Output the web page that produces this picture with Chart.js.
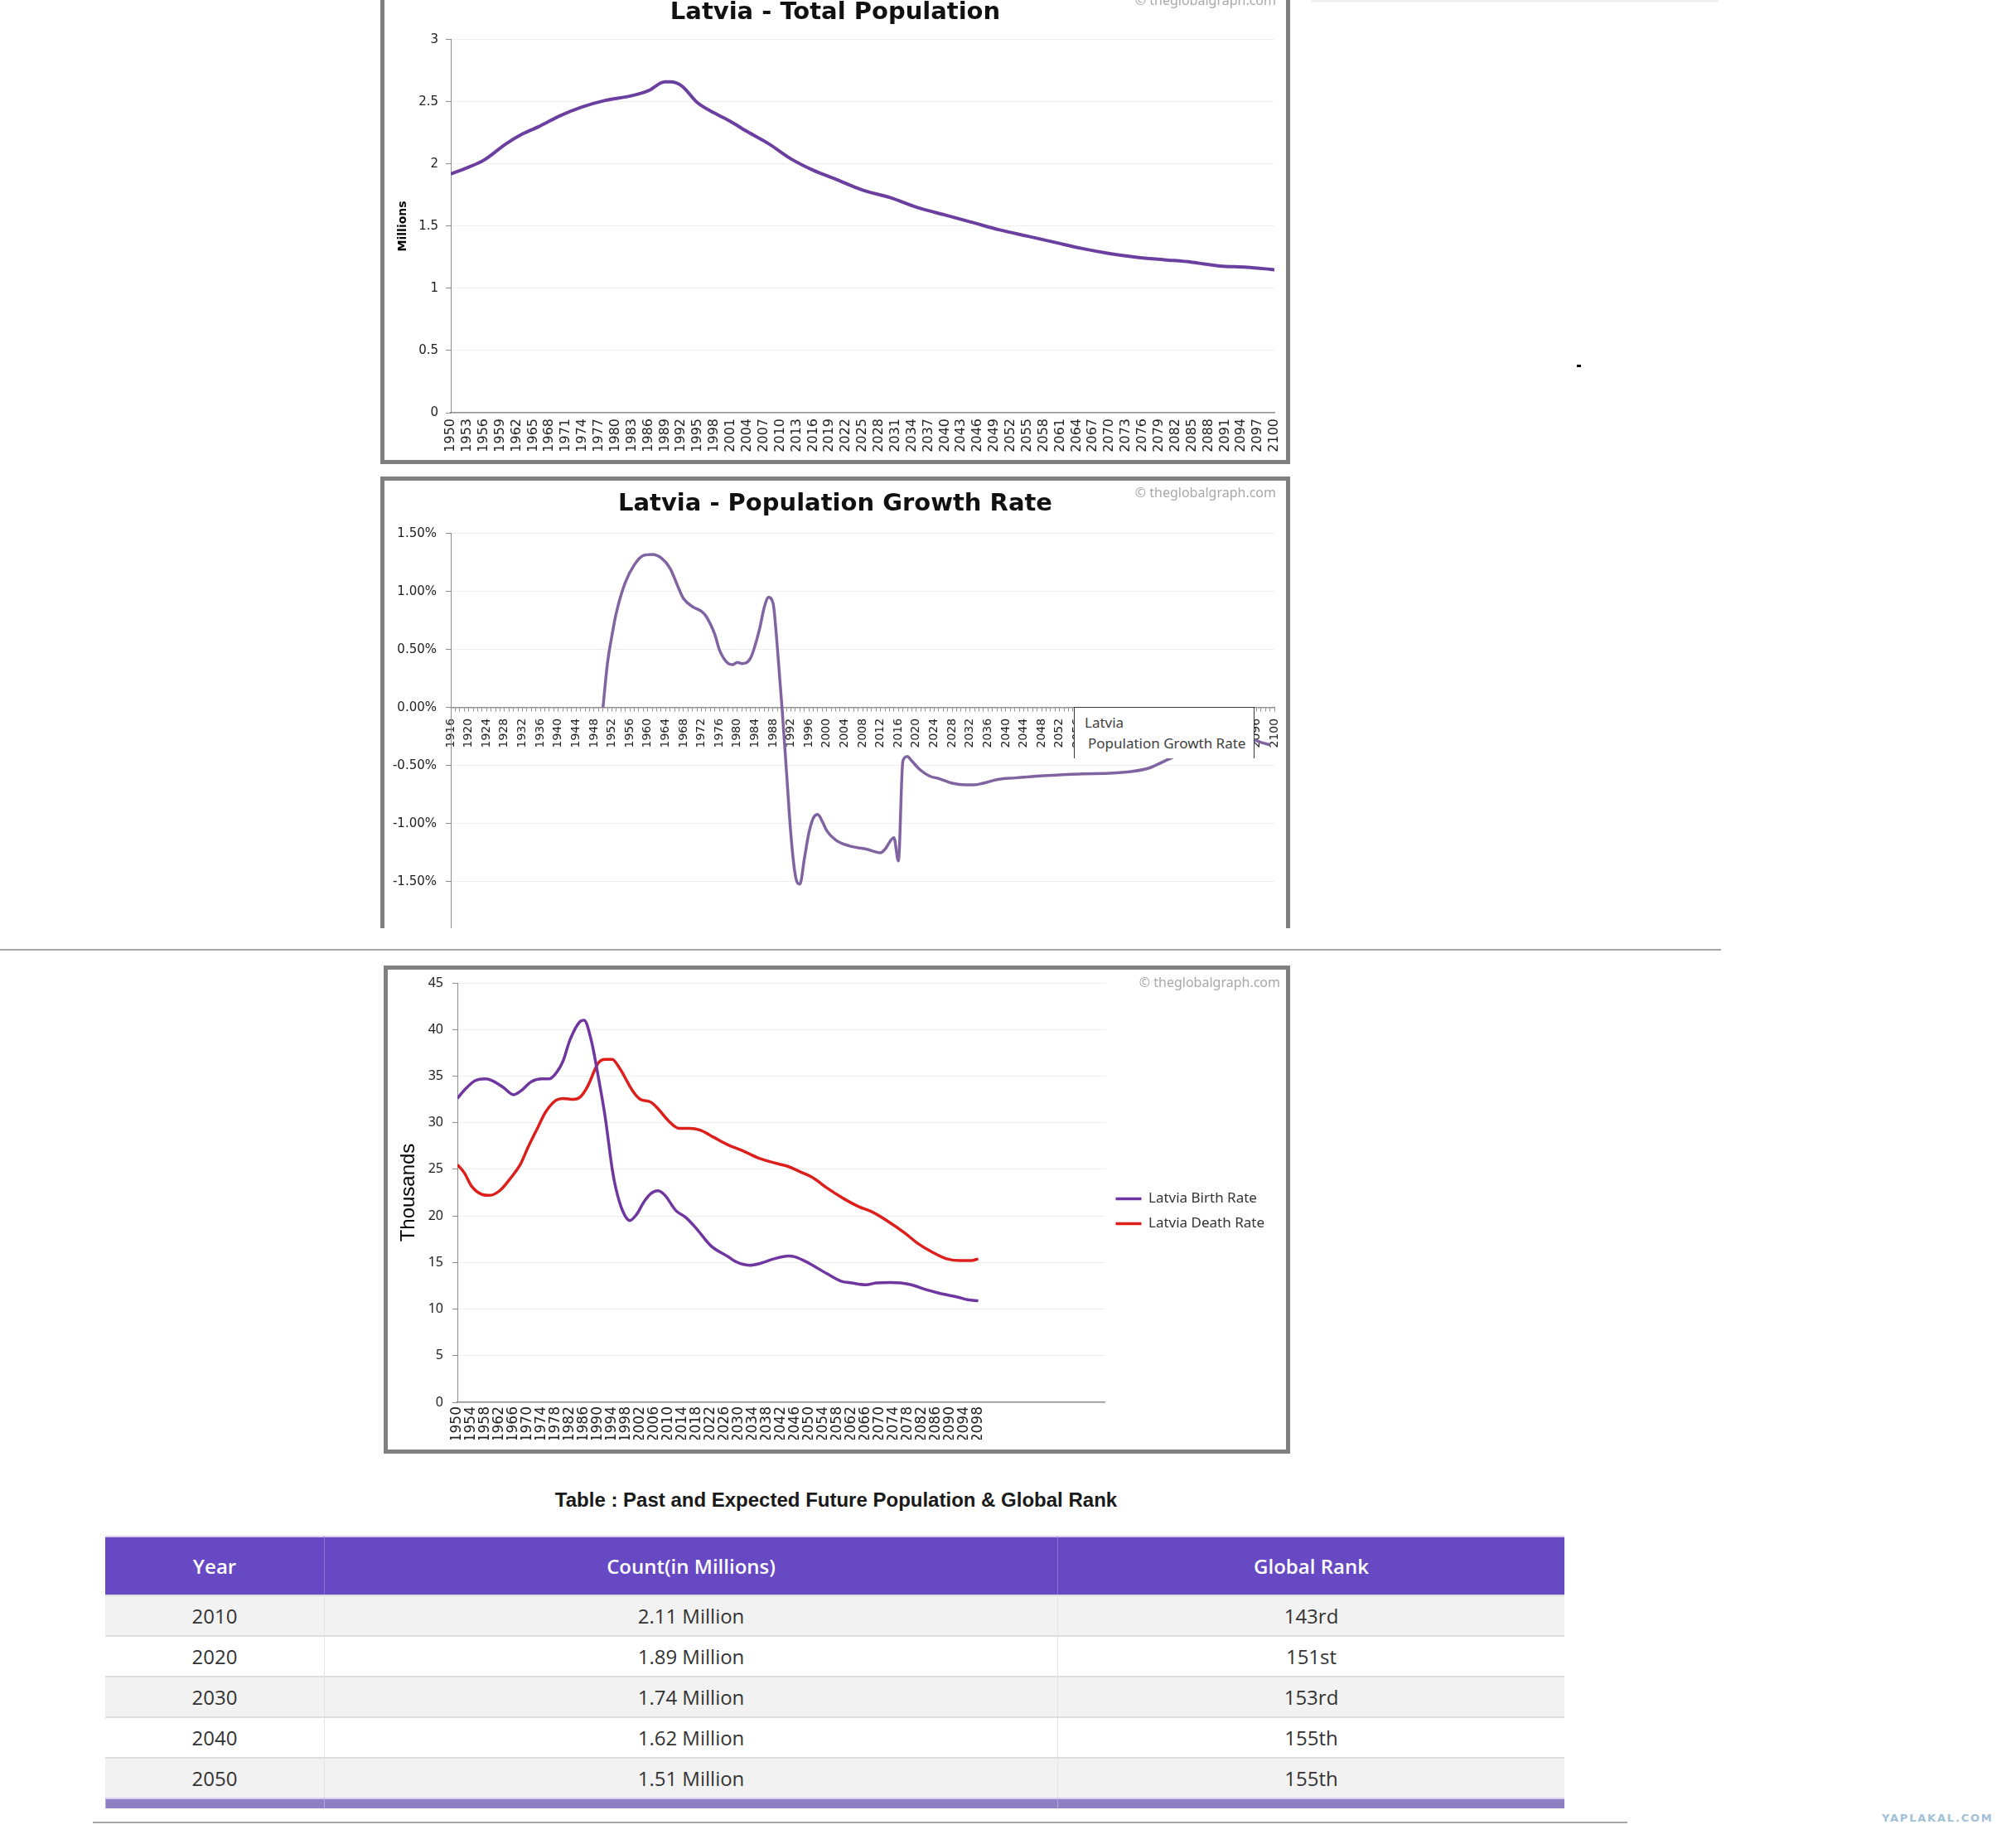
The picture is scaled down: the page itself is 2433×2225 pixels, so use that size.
<!DOCTYPE html>
<html>
<head>
<meta charset="utf-8">
<title>Latvia - Population</title>
<script src="https://cdn.jsdelivr.net/npm/chart.js@4.4.1/dist/chart.umd.min.js"></script>
<style>
  html, body { margin: 0; padding: 0; background: #fff; }
  body { width: 2433px; height: 2225px; position: relative; overflow: hidden; }
  .box { position: absolute; box-sizing: border-box; border: 5px solid #808080; background: #fff; overflow: hidden; }
  .box canvas { position: absolute; left: 0; top: 0; }
  .copy { position: absolute; width: 260px; height: 20px; line-height: 20px; font-family: 'Noto Sans', sans-serif;
          font-size: 16px; color: #a8a8a8; text-align: right; white-space: nowrap; }
  .rule { position: absolute; height: 2px; background: #a6a6a6; }
  #tip { position: absolute; left: 1296px; top: 853px; width: 218px; height: 62px; box-sizing: border-box;
         border: 1.5px solid #3a3a3a; border-bottom: none; background: #fff;
         font-family: 'Noto Sans', sans-serif; font-size: 17px; color: #404040; }
  #tip span { position: absolute; line-height: 20px; white-space: nowrap; }
  #tableTitle { position: absolute; left: 0; top: 1797px; width: 2018px; text-align: center; line-height: 26px;
                font-family: 'Liberation Sans', Arial, sans-serif; font-weight: bold; font-size: 24px; color: #1a1a1a; }
  #rank { position: absolute; left: 127px; top: 1853px; width: 1761px; table-layout: fixed;
          border-collapse: separate; border-spacing: 0; font-family: 'Open Sans', sans-serif; }
  #rank th, #rank td { box-sizing: border-box; padding: 0; text-align: center; }
  #rank th { height: 71px; background: #6849c4; color: #fff; font-weight: 600; font-size: 24px;
             border-top: 2px solid #d9d0f3; border-left: 1px solid #8a72d6; }
  #rank td { height: 49px; font-size: 24px; color: #333; border-top: 2px solid #dddddd; border-left: 1px solid #e4e4e4; }
  #rank th:first-child, #rank td:first-child { border-left: none; }
  #rank tr.foot td { height: 13px; background: #8d7fc2; border-top: 2px solid #d9d0f3; border-left: 1px solid #b3a9dc; }
  #wm { position: absolute; left: 2271px; top: 2186px; font-family: 'DejaVu Sans', sans-serif; font-weight: bold;
        font-size: 13px; letter-spacing: 1.8px; color: #a3c0d6; line-height: 16px; }
</style>
</head>
<body>

<div class="box" style="left:459px; top:-12px; width:1098px; height:572px;">
  <canvas id="popChart" width="1088" height="562"></canvas>
</div>
<div class="copy" style="left:1280px; top:-10px;">© theglobalgraph.com</div>

<div class="box" style="left:459px; top:575px; width:1098px; height:545px; border-bottom:none;">
  <canvas id="growthChart" width="1088" height="564"></canvas>
</div>
<div class="copy" style="left:1280px; top:584px;">© theglobalgraph.com</div>
<div id="tip"><span style="left:12px; top:8px;">Latvia</span><span style="left:16px; top:33px;">Population Growth Rate</span></div>

<div class="rule" style="left:0; top:1145px; width:2077px;"></div>

<div class="box" style="left:463px; top:1165px; width:1094px; height:589px;">
  <canvas id="rateChart" width="1084" height="579"></canvas>
</div>
<div class="copy" style="left:1285px; top:1175px;">© theglobalgraph.com</div>

<div id="tableTitle">Table : Past and Expected Future Population &amp; Global Rank</div>
<table id="rank">
  <colgroup><col style="width:264px"><col style="width:885px"><col style="width:612px"></colgroup>
  <thead><tr id="rankHead"></tr></thead>
  <tbody id="rankBody"></tbody>
</table>

<div class="rule" style="left:112px; top:2198px; width:1852px;"></div>
<div id="wm">YAPLAKAL.COM</div>
<div style="position:absolute; left:1583px; top:0; width:491px; height:3px; background:#f0f0f0;"></div>
<div style="position:absolute; left:1903px; top:440px; width:5px; height:3px; background:#000;"></div>

<script>
// Total population, millions
var popYears = [1950, 1953, 1956, 1960, 1963, 1966, 1970, 1974, 1978, 1983, 1986, 1989, 1990, 1992, 1995,
  1998, 2001, 2004, 2008, 2012, 2016, 2020, 2025, 2030, 2035, 2040, 2045, 2050, 2055, 2060, 2065, 2070,
  2075, 2080, 2085, 2090, 2095, 2100];
var popValues = [1.92, 1.97, 2.03, 2.16, 2.24, 2.30, 2.39, 2.46, 2.51, 2.55, 2.59, 2.66, 2.66, 2.63, 2.49,
  2.41, 2.34, 2.26, 2.16, 2.04, 1.95, 1.88, 1.79, 1.73, 1.65, 1.59, 1.53, 1.47, 1.42, 1.37, 1.32, 1.28,
  1.25, 1.23, 1.21, 1.18, 1.17, 1.15];

// Population growth rate, %
var growthYears = [1950, 1951, 1952, 1953, 1955, 1957, 1959, 1961, 1963, 1965, 1967, 1968, 1970, 1972, 1973,
  1975, 1976, 1978, 1979, 1980, 1981, 1983, 1985, 1986, 1987, 1988, 1989, 1990, 1991, 1992, 1993, 1994,
  1995, 1996, 1997, 1998, 1999, 2000, 2002, 2005, 2009, 2012, 2013, 2015, 2016, 2017, 2018, 2019, 2021,
  2023, 2025, 2028, 2031, 2033, 2035, 2038, 2042, 2047, 2052, 2057, 2063, 2068, 2072, 2076, 2080, 2085,
  2090, 2094, 2097, 2099];
var growthValues = [0.00, 0.38, 0.62, 0.82, 1.08, 1.23, 1.31, 1.32, 1.29, 1.20, 1.02, 0.94, 0.87, 0.83, 0.79,
  0.63, 0.50, 0.38, 0.37, 0.39, 0.38, 0.43, 0.68, 0.86, 0.95, 0.90, 0.50, 0.00, -0.55, -1.10, -1.45, -1.52,
  -1.30, -1.08, -0.95, -0.92, -0.98, -1.06, -1.14, -1.19, -1.22, -1.25, -1.22, -1.12, -1.32, -0.46, -0.42,
  -0.46, -0.54, -0.59, -0.61, -0.65, -0.665, -0.665, -0.65, -0.62, -0.605, -0.59, -0.58, -0.57, -0.565,
  -0.55, -0.52, -0.45, -0.38, -0.31, -0.26, -0.26, -0.30, -0.32];

// Births and deaths, thousands
var birthYears = [1950, 1952, 1955, 1958, 1960, 1963, 1966, 1968, 1971, 1974, 1976, 1978, 1980, 1982, 1985,
  1986, 1988, 1990, 1992, 1994, 1995, 1997, 1999, 2001, 2003, 2005, 2007, 2009, 2012, 2015, 2018, 2022,
  2027, 2029, 2033, 2036, 2040, 2044, 2046, 2050, 2055, 2059, 2062, 2066, 2069, 2073, 2076, 2079, 2083,
  2087, 2092, 2095, 2098];
var birthValues = [32.6, 33.5, 34.5, 34.7, 34.5, 33.8, 33.0, 33.4, 34.4, 34.7, 34.7, 35.3, 36.6, 38.9, 40.9,
  41.0, 38.9, 35.0, 30.6, 25.0, 23.0, 20.5, 19.5, 20.2, 21.5, 22.4, 22.7, 22.2, 20.6, 19.8, 18.6, 16.8,
  15.6, 15.1, 14.7, 14.9, 15.4, 15.7, 15.6, 14.9, 13.8, 13.0, 12.8, 12.6, 12.8, 12.85, 12.8, 12.6, 12.1,
  11.7, 11.3, 11.0, 10.9];
var deathYears = [1950, 1952, 1954, 1957, 1959, 1962, 1965, 1968, 1970, 1973, 1975, 1978, 1980, 1983, 1985,
  1987, 1990, 1992, 1994, 1996, 2000, 2002, 2005, 2007, 2010, 2013, 2016, 2019, 2023, 2027, 2031, 2035,
  2039, 2044, 2047, 2051, 2055, 2060, 2064, 2068, 2072, 2077, 2081, 2085, 2089, 2093, 2096, 2098];
var deathValues = [25.5, 24.6, 23.2, 22.3, 22.2, 22.7, 24.0, 25.6, 27.3, 29.6, 31.1, 32.4, 32.6, 32.5, 32.8,
  33.9, 36.4, 36.8, 36.8, 35.9, 33.3, 32.5, 32.2, 31.5, 30.2, 29.4, 29.4, 29.2, 28.4, 27.6, 27.0, 26.3,
  25.8, 25.3, 24.8, 24.1, 23.0, 21.8, 21.0, 20.4, 19.5, 18.2, 17.0, 16.1, 15.4, 15.2, 15.2, 15.4];

// Table
var tableHeads = ['Year', 'Count(in Millions)', 'Global Rank'];
var tableYears = ['2010', '2020', '2030', '2040', '2050'];
var tableCounts = ['2.11 Million', '1.89 Million', '1.74 Million', '1.62 Million', '1.51 Million'];
var tableRanks = ['143rd', '151st', '153rd', '155th', '155th'];

function toPoints(xs, ys) {
  return xs.map(function (x, i) { return { x: x, y: ys[i] }; });
}

Chart.defaults.font.family = 'DejaVu Sans';
Chart.defaults.color = '#222';

var axisGray = '#8f8f8f';
var gridGray = '#eeeeee';

function popChartMethod() {
  this.popChart = new Chart(document.getElementById('popChart').getContext('2d'), {
    type: 'line',
    data: {
      datasets: [{
        label: 'Latvia',
        data: toPoints(popYears, popValues),
        borderColor: '#6b3fa0',
        borderWidth: 4,
        pointRadius: 0,
        cubicInterpolationMode: 'monotone',
        fill: false
      }]
    },
    options: {
      responsive: false,
      animation: false,
      devicePixelRatio: 1,
      // equal side padding keeps the title centred on the box
      layout: { padding: { left: 14, right: 14, top: 0, bottom: 0 } },
      plugins: {
        legend: { display: false },
        tooltip: { enabled: false },
        title: {
          display: true,
          text: 'Latvia - Total Population',
          color: '#111',
          font: { family: 'DejaVu Sans', size: 29, weight: 'bold' },
          padding: { top: 5, bottom: 15 }
        }
      },
      scales: {
        x: {
          type: 'linear',
          min: 1950,
          max: 2100,
          grid: { display: false, drawTicks: false },
          border: { color: axisGray, width: 1.5 },
          ticks: {
            stepSize: 3,
            autoSkip: false,
            minRotation: 90,
            maxRotation: 90,
            padding: 7,
            font: { size: 16 },
            color: '#222',
            callback: function (v) { return String(v); }
          },
          afterFit: function (s) { s.height = 57; s.paddingLeft = 0; s.paddingRight = 0; }
        },
        y: {
          min: 0,
          max: 3,
          grid: { color: gridGray, tickColor: axisGray, tickLength: 6 },
          border: { color: axisGray },
          ticks: {
            stepSize: 0.5,
            padding: 9,
            font: { size: 15 },
            color: '#222',
            callback: function (v) { return String(v); }
          },
          title: {
            display: true,
            text: 'Millions',
            color: '#000',
            font: { size: 14, weight: 'bold' },
            padding: { top: 0, bottom: 0 }
          },
          afterFit: function (s) { s.width = 66; s.paddingTop = 0; s.paddingBottom = 0; }
        }
      }
    }
  });
}

function growthChartMethod() {
  this.growthChart = new Chart(document.getElementById('growthChart').getContext('2d'), {
    type: 'line',
    data: {
      datasets: [{
        label: 'Population Growth Rate',
        data: toPoints(growthYears, growthValues),
        borderColor: '#8064a2',
        borderWidth: 3.5,
        pointRadius: 0,
        cubicInterpolationMode: 'monotone',
        fill: false
      }]
    },
    options: {
      responsive: false,
      animation: false,
      devicePixelRatio: 1,
      layout: { padding: { left: 0, right: 0, top: 0, bottom: 10 } },
      plugins: {
        legend: { display: false },
        tooltip: { enabled: false },
        title: {
          display: true,
          text: 'Latvia - Population Growth Rate',
          color: '#111',
          font: { family: 'DejaVu Sans', size: 29, weight: 'bold' },
          padding: { top: 11, bottom: 18 }
        }
      },
      scales: {
        x: {
          type: 'linear',
          position: { y: 0 },
          min: 1916,
          max: 2100,
          grid: { display: true, drawOnChartArea: false, drawTicks: true, tickLength: 4, tickColor: axisGray },
          border: { color: axisGray, width: 1.5 },
          ticks: {
            stepSize: 1,
            autoSkip: false,
            minRotation: 90,
            maxRotation: 90,
            padding: 9,
            font: { size: 14 },
            color: '#222',
            callback: function (v) { return (v - 1916) % 4 === 0 ? String(v) : ''; }
          },
          afterFit: function (s) { s.paddingLeft = 0; s.paddingRight = 0; }
        },
        y: {
          min: -2,
          max: 1.5,
          grid: { color: gridGray, tickColor: axisGray, tickLength: 6 },
          border: { color: axisGray },
          ticks: {
            stepSize: 0.5,
            padding: 11,
            font: { size: 15 },
            color: '#222',
            callback: function (v) { return v.toFixed(2) + '%'; }
          },
          afterFit: function (s) { s.width = 80; s.paddingTop = 0; s.paddingBottom = 0; }
        },
        // empty right-hand margin so the title stays centred on the whole box
        yMargin: {
          position: 'right',
          grid: { display: false, drawTicks: false },
          border: { display: false },
          ticks: { display: false },
          afterFit: function (s) { s.width = 14; s.paddingTop = 0; s.paddingBottom = 0; }
        }
      }
    }
  });
}

function rateChartMethod() {
  this.rateChart = new Chart(document.getElementById('rateChart').getContext('2d'), {
    type: 'line',
    data: {
      datasets: [{
        label: 'Latvia Birth Rate',
        data: toPoints(birthYears, birthValues),
        borderColor: '#7036a0',
        backgroundColor: '#7036a0',
        borderWidth: 3.5,
        pointRadius: 0,
        cubicInterpolationMode: 'monotone',
        fill: false
      }, {
        label: 'Latvia Death Rate',
        data: toPoints(deathYears, deathValues),
        borderColor: '#dd1f1c',
        backgroundColor: '#dd1f1c',
        borderWidth: 3.5,
        pointRadius: 0,
        cubicInterpolationMode: 'monotone',
        fill: false
      }]
    },
    options: {
      responsive: false,
      animation: false,
      devicePixelRatio: 1,
      layout: { padding: { left: 0, right: 16, top: 16, bottom: 12 } },
      plugins: {
        tooltip: { enabled: false },
        legend: {
          position: 'right',
          labels: {
            usePointStyle: true,
            pointStyle: 'line',
            pointStyleWidth: 31,
            padding: 13,
            color: '#333',
            font: { family: 'Noto Sans', size: 17 }
          }
        }
      },
      scales: {
        x: {
          type: 'linear',
          min: 1950,
          max: 2134,
          grid: { display: false, drawTicks: false },
          border: { color: axisGray, width: 1.5 },
          ticks: {
            stepSize: 4,
            autoSkip: false,
            minRotation: 90,
            maxRotation: 90,
            padding: 5,
            font: { size: 17 },
            color: '#222',
            callback: function (v) { return v <= 2100 ? String(v) : ''; }
          },
          afterFit: function (s) { s.height = 45; s.paddingLeft = 0; s.paddingRight = 0; }
        },
        y: {
          min: 0,
          max: 45,
          grid: { color: gridGray, tickColor: axisGray, tickLength: 6 },
          border: { color: axisGray },
          ticks: { stepSize: 5, padding: 11, font: { family: 'Noto Sans', size: 16 }, color: '#222' },
          title: {
            display: true,
            text: 'Thousands',
            color: '#000',
            font: { family: 'Liberation Sans', size: 24 },
            padding: { top: 11, bottom: 0 }
          },
          afterFit: function (s) { s.width = 84; s.paddingTop = 0; s.paddingBottom = 0; }
        }
      }
    }
  });
}

function buildTable() {
  var head = document.getElementById('rankHead');
  tableHeads.forEach(function (h) {
    var th = document.createElement('th');
    th.textContent = h;
    head.appendChild(th);
  });
  var body = document.getElementById('rankBody');
  tableYears.forEach(function (y, i) {
    var tr = document.createElement('tr');
    [y, tableCounts[i], tableRanks[i]].forEach(function (t) {
      var td = document.createElement('td');
      td.textContent = t;
      td.style.background = i % 2 === 0 ? '#f2f2f2' : '#ffffff';
      tr.appendChild(td);
    });
    body.appendChild(tr);
  });
  var foot = document.createElement('tr');
  foot.className = 'foot';
  for (var k = 0; k < 3; k++) foot.appendChild(document.createElement('td'));
  body.appendChild(foot);
}

document.addEventListener('DOMContentLoaded', function () {
  popChartMethod();
  growthChartMethod();
  rateChartMethod();
  buildTable();
});
</script>
</body>
</html>
